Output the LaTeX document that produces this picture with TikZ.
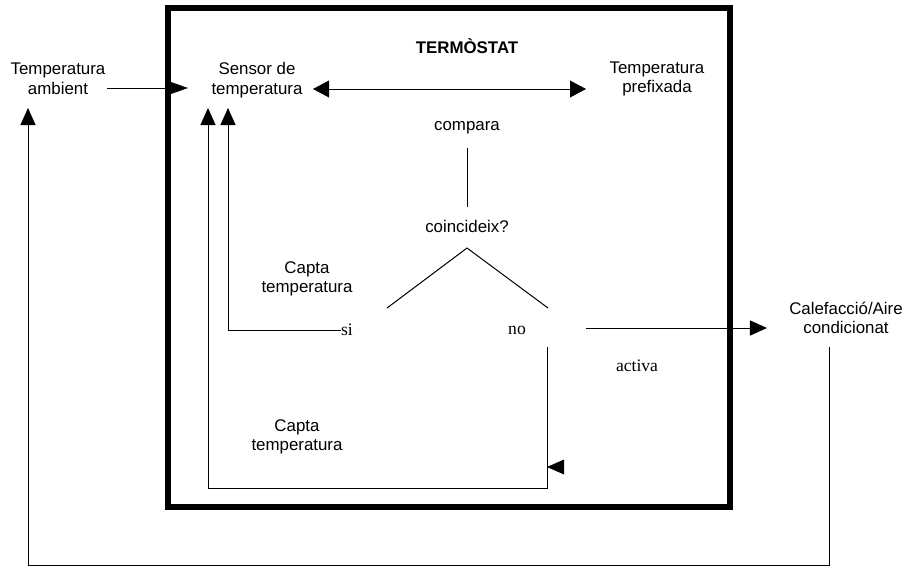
\documentclass[tikz,border=0pt]{standalone}
\usepackage{fontspec}
\setmainfont{Liberation Sans}
\newfontfamily\timesfont{Liberation Serif}
\usetikzlibrary{arrows.meta}

\begin{document}
\begin{tikzpicture}[%
x=0.025cm, y=-0.025cm,
line width=0.7pt,
txt/.style={align=center, inner sep=0pt, font=\fontsize{12}{14}\selectfont},
serif/.style={inner sep=0pt, font=\timesfont\fontsize{12.5}{14}\selectfont},
tri/.style={-{Triangle[length=0.43cm,width=0.38cm]}},
bigtri/.style={-{Triangle[length=0.55cm,width=0.38cm]}},
dbltri/.style={{Triangle[length=0.4cm,width=0.42cm]}-{Triangle[length=0.4cm,width=0.42cm]}},
]
\useasboundingbox (0,0) rectangle (908,568);
%% thermostat frame;
\draw [line width=4.3pt] (168,8) rectangle (730,507);
%% labels;
\node [txt, font=\bfseries\fontsize{12}{14}\selectfont] (title) at (467,46) {TERMÒSTAT};
\node [txt] (amb) at (58,79) {Temperatura\\ambient};
\node [txt] (sensor) at (257,80) {Sensor de\\temperatura};
\node [txt] (prefix) at (657,79) {Temperatura\\prefixada};
\node [txt] (compara) at (467,128) {compara};
\node [txt] (coinc) at (467,226) {coincideix?};
\node [txt] (capta1) at (307,279) {Capta\\temperatura};
\node [txt] (capta2) at (297,437) {Capta\\temperatura};
\node [txt] (calef) at (846,318) {Calefacció/Aire\\condicionat};
\node [serif] (si) at (347,330) {si};
\node [serif] (no) at (517,330) {no};
\node [serif] (activa) at (637,366) {activa};
%% end points;
\coordinate (ambOut) at (107,88);
\coordinate (sensIn) at (188,88);
\coordinate (sensL) at (313,89);
\coordinate (prefL) at (586,89);
\coordinate (compDown) at (467,148);
\coordinate (coincUp) at (467,207);
\coordinate (apex) at (467,248);
\coordinate (siUp) at (387,308);
\coordinate (noUp) at (548,308);
\coordinate (noOut) at (586,328);
\coordinate (calefIn) at (767,328);
\coordinate (noDown) at (547,347);
\coordinate (calefDown) at (829,347);
\coordinate (upA) at (28,108);
\coordinate (upB) at (208,108);
\coordinate (upC) at (228,108);
\coordinate (tip) at (547,467);
%% arrows;
\draw [bigtri] (ambOut) -- (sensIn);
\draw [dbltri] (sensL) -- (prefL);
\draw (compDown) -- (coincUp);
\draw (siUp) -- (apex) -- (noUp);
\draw [tri] (noOut) -- (calefIn);
\draw [tri] (si.west) -| (upC);
\draw [tri] (noDown) -- (547,488) -| (upB);
\draw [tri] (calefDown) -- (829,565) -| (upA);
\fill (tip) -- ++(17,-7.5) -- ++(0,15) -- cycle;
\end{tikzpicture}
\end{document}
